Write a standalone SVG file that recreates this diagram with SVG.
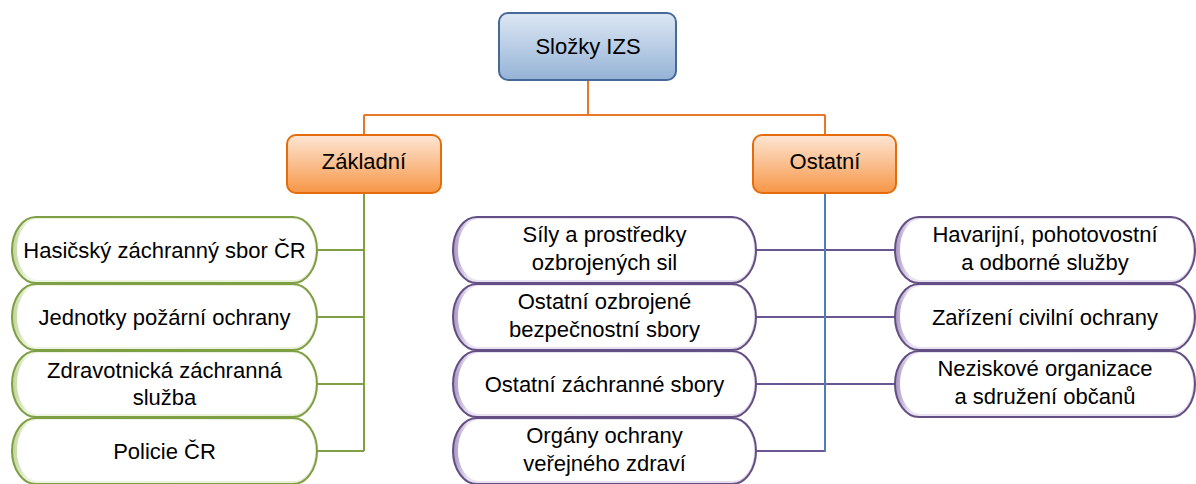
<svg xmlns="http://www.w3.org/2000/svg" width="1196" height="484" viewBox="0 0 1196 484">
<defs>
<linearGradient id="gBlue" x1="0" y1="0" x2="0" y2="1"><stop offset="0" stop-color="#DDE7F3"/><stop offset="1" stop-color="#95B3D7"/></linearGradient>
<linearGradient id="gOrange" x1="0" y1="0" x2="0" y2="1"><stop offset="0" stop-color="#FDE6D5"/><stop offset="1" stop-color="#F79646"/></linearGradient>
<linearGradient id="gGreen" x1="0" y1="0" x2="1" y2="0"><stop offset="0" stop-color="#BFD496"/><stop offset="0.05" stop-color="#EEF4E2"/><stop offset="1" stop-color="#E8F0D8"/></linearGradient>
<linearGradient id="gPurple" x1="0" y1="0" x2="1" y2="0"><stop offset="0" stop-color="#A896C2"/><stop offset="0.05" stop-color="#E9E3F1"/><stop offset="1" stop-color="#E4DDEE"/></linearGradient>
</defs>
<style>
text{font-family:"Liberation Sans",Arial,sans-serif;font-size:22px;fill:#000;text-anchor:middle}
.top{fill:url(#gBlue);stroke:#47699A;stroke-width:2}
.or{fill:url(#gOrange);stroke:#E46C0A;stroke-width:2}
.gOut{fill:url(#gGreen);stroke:#7F9F45;stroke-width:2}
.pOut{fill:url(#gPurple);stroke:#644F84;stroke-width:2}
.in{fill:#fff;stroke:none}
.cn{fill:none;stroke-width:2}
.co{stroke:#E8772A}
.cg{stroke:#7F9F45}
.cb{stroke:#4F7CB5}
.cp{stroke:#6A5690}
</style>
<g id="connectors">
<path class="cn co" d="M588,81 V115 M364,115 H825 M364,115 V135 M825,115 V135"/>
<path class="cn cg" d="M364,193 V451 M317,250 H364 M317,317 H364 M317,384 H364 M317,451 H364"/>
<path class="cn cp" d="M756,250 H895 M756,317 H895 M756,384 H895 M756,451 H825"/>
<path class="cn cb" d="M825,193 V452"/>
</g>
<g id="n-root"><rect class="top" x="499" y="13" width="177" height="67" rx="9"/><text x="588" y="54">Složky IZS</text></g>
<g id="n-zakladni"><rect class="or" x="287" y="135" width="154" height="58" rx="9"/><text x="364" y="169">Základní</text></g>
<g id="n-ostatni"><rect class="or" x="753" y="135" width="143" height="58" rx="9"/><text x="825" y="169">Ostatní</text></g>

<g id="n-hzs"><rect class="gOut" x="12" y="217" width="305" height="66" rx="24" ry="33"/><rect class="in" x="17" y="219" width="298" height="61" rx="21" ry="30"/><text x="164.5" y="257.5">Hasičský záchranný sbor ČR</text></g>
<g id="n-jpo"><rect class="gOut" x="12" y="284" width="305" height="66" rx="24" ry="33"/><rect class="in" x="17" y="286" width="298" height="61" rx="21" ry="30"/><text x="164.5" y="324.5">Jednotky požární ochrany</text></g>
<g id="n-zzs"><rect class="gOut" x="12" y="351" width="305" height="66" rx="24" ry="33"/><rect class="in" x="17" y="353" width="298" height="61" rx="21" ry="30"/><text x="164.5" y="378">Zdravotnická záchranná</text><text x="164.5" y="405">služba</text></g>
<g id="n-policie"><rect class="gOut" x="12" y="418" width="305" height="66" rx="24" ry="33"/><rect class="in" x="17" y="420" width="298" height="61" rx="21" ry="30"/><text x="164.5" y="458.5">Policie ČR</text></g>

<g id="n-sily"><rect class="pOut" x="453" y="217" width="303" height="66" rx="24" ry="33"/><rect class="in" x="458" y="219" width="296" height="61" rx="21" ry="30"/><text x="604.5" y="242">Síly a prostředky</text><text x="604.5" y="270">ozbrojených sil</text></g>
<g id="n-oobs"><rect class="pOut" x="453" y="284" width="303" height="66" rx="24" ry="33"/><rect class="in" x="458" y="286" width="296" height="61" rx="21" ry="30"/><text x="604.5" y="309">Ostatní ozbrojené</text><text x="604.5" y="337">bezpečnostní sbory</text></g>
<g id="n-ozs"><rect class="pOut" x="453" y="351" width="303" height="66" rx="24" ry="33"/><rect class="in" x="458" y="353" width="296" height="61" rx="21" ry="30"/><text x="604.5" y="391.5">Ostatní záchranné sbory</text></g>
<g id="n-ochz"><rect class="pOut" x="453" y="418" width="303" height="66" rx="24" ry="33"/><rect class="in" x="458" y="420" width="296" height="61" rx="21" ry="30"/><text x="604.5" y="443">Orgány ochrany</text><text x="604.5" y="471">veřejného zdraví</text></g>

<g id="n-havarijni"><rect class="pOut" x="895" y="217" width="300" height="66" rx="24" ry="33"/><rect class="in" x="900" y="219" width="293" height="61" rx="21" ry="30"/><text x="1045" y="242">Havarijní, pohotovostní</text><text x="1045" y="270">a odborné služby</text></g>
<g id="n-zco"><rect class="pOut" x="895" y="284" width="300" height="66" rx="24" ry="33"/><rect class="in" x="900" y="286" width="293" height="61" rx="21" ry="30"/><text x="1045" y="324.5">Zařízení civilní ochrany</text></g>
<g id="n-neziskove"><rect class="pOut" x="895" y="351" width="300" height="66" rx="24" ry="33"/><rect class="in" x="900" y="353" width="293" height="61" rx="21" ry="30"/><text x="1045" y="376">Neziskové organizace</text><text x="1045" y="404">a sdružení občanů</text></g>
</svg>
